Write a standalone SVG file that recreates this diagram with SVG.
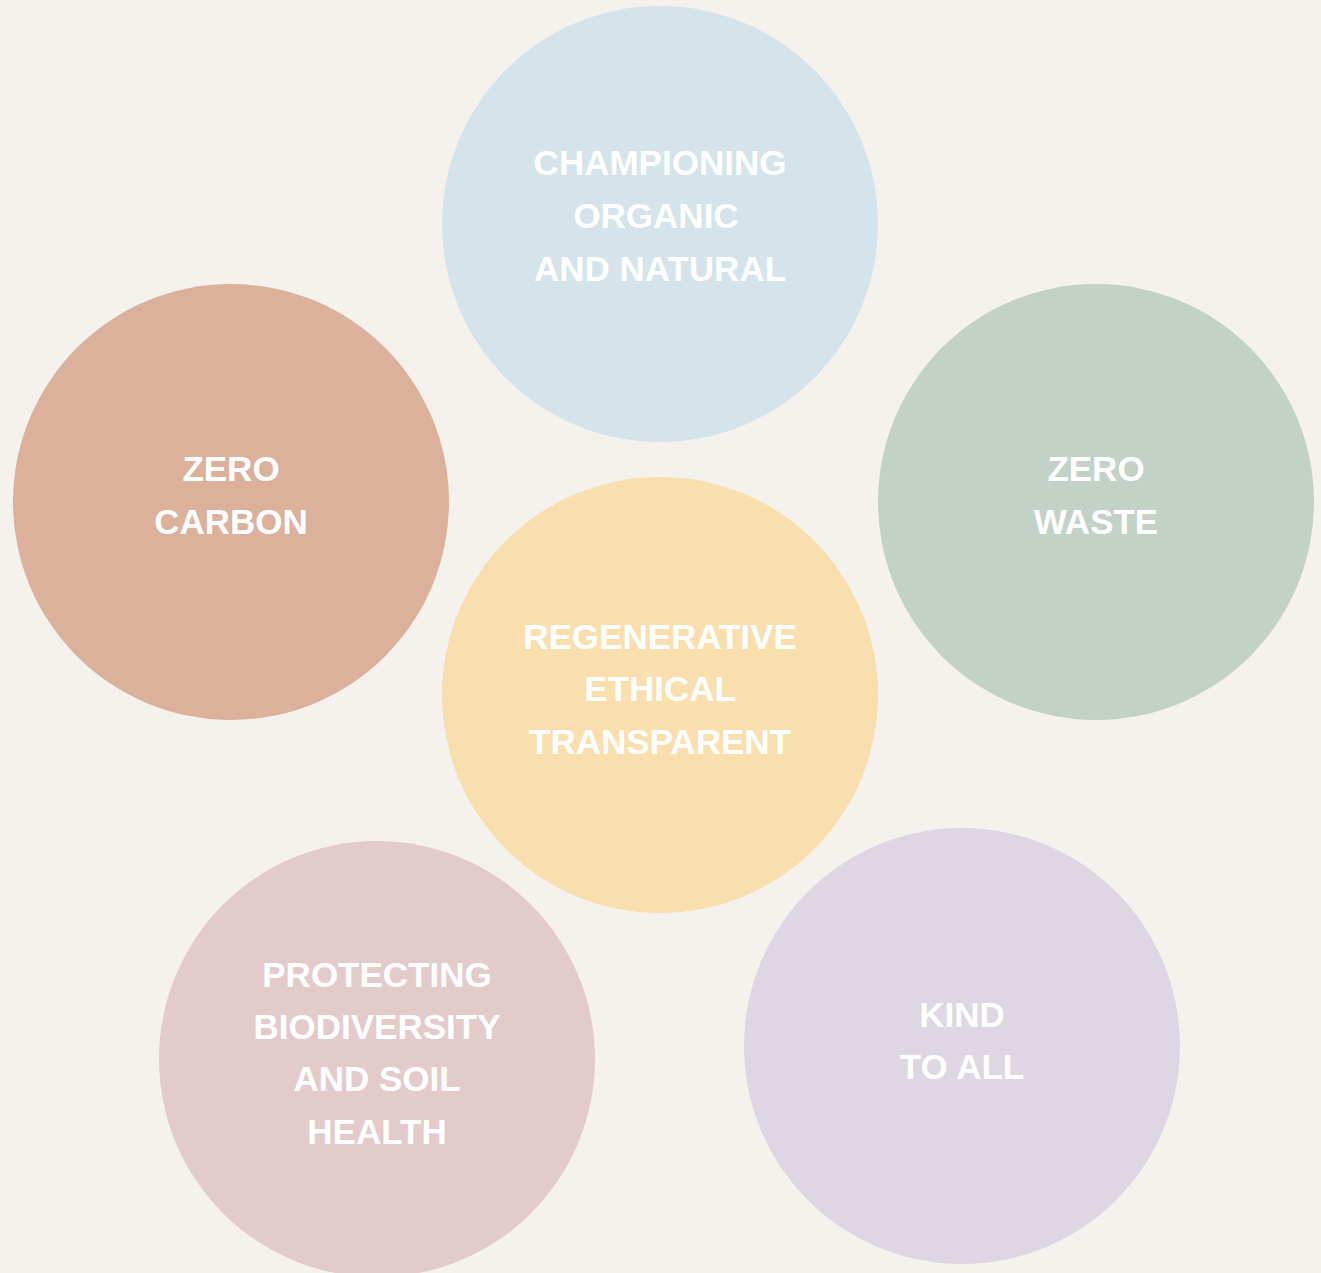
<svg xmlns="http://www.w3.org/2000/svg" width="1321" height="1273" viewBox="0 0 1321 1273">
  <style>
    .lbl { font-family: "Liberation Sans", Arial, sans-serif; font-weight: bold; font-size: 35px; fill: #ffffff; text-anchor: middle; }
  </style>
  <rect x="0" y="0" width="1321" height="1273" fill="#F5F2EE"/>
  <g id="connectors"></g>
  <g id="organic">
    <circle cx="660" cy="224" r="218" fill="#D4E4EA"/>
    <text class="lbl" x="660" y="175">CHAMPIONING</text>
    <text class="lbl" x="656" y="228">ORGANIC</text>
    <text class="lbl" x="660" y="281">AND NATURAL</text>
  </g>
  <g id="zero-carbon">
    <circle cx="231" cy="502" r="218" fill="#DBB19C"/>
    <text class="lbl" x="231" y="481">ZERO</text>
    <text class="lbl" x="231" y="534">CARBON</text>
  </g>
  <g id="zero-waste">
    <circle cx="1096" cy="502" r="218" fill="#C3D1C7"/>
    <text class="lbl" x="1096" y="481">ZERO</text>
    <text class="lbl" x="1096" y="534">WASTE</text>
  </g>
  <g id="core">
    <circle cx="660" cy="695" r="218" fill="#F9DFAD"/>
    <text class="lbl" x="660" y="649">REGENERATIVE</text>
    <text class="lbl" x="660" y="701">ETHICAL</text>
    <text class="lbl" x="660" y="754">TRANSPARENT</text>
  </g>
  <g id="biodiversity">
    <circle cx="377" cy="1059" r="218" fill="#E3CBCC"/>
    <text class="lbl" x="377" y="987">PROTECTING</text>
    <text class="lbl" x="377" y="1039">BIODIVERSITY</text>
    <text class="lbl" x="377" y="1091">AND SOIL</text>
    <text class="lbl" x="377" y="1144">HEALTH</text>
  </g>
  <g id="kind">
    <circle cx="962" cy="1046" r="218" fill="#DED6E2"/>
    <text class="lbl" x="962" y="1027">KIND</text>
    <text class="lbl" x="962" y="1079">TO ALL</text>
  </g>
</svg>
